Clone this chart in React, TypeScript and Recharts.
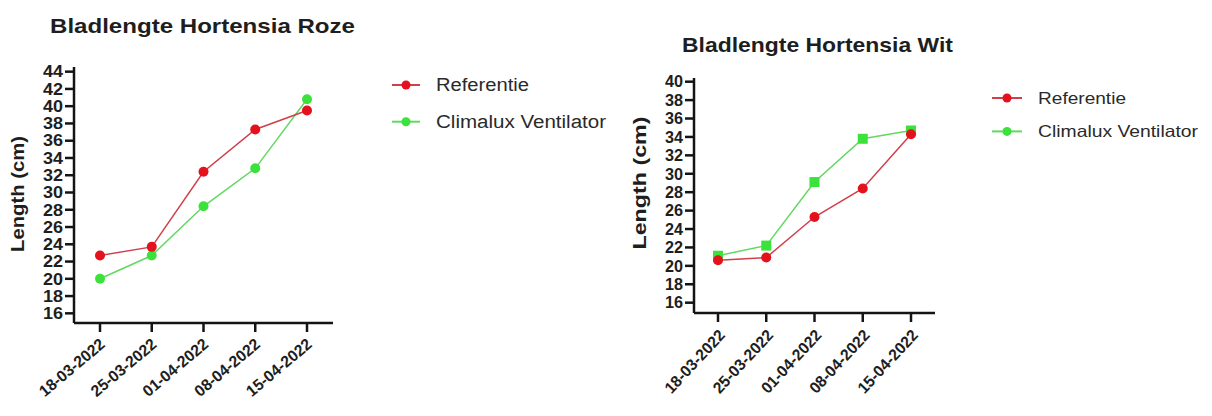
import { LineChart, Line, XAxis, YAxis, Legend } from 'recharts'

const dates = ['18-03-2022', '25-03-2022', '01-04-2022', '08-04-2022', '15-04-2022']
const seriesNames = ['Referentie', 'Climalux Ventilator']

const rozeReferentie = [22.7, 23.7, 32.4, 37.3, 39.5]
const rozeClimalux = [20.0, 22.7, 28.4, 32.8, 40.8]
const rozeTicks = [16, 18, 20, 22, 24, 26, 28, 30, 32, 34, 36, 38, 40, 42, 44]

const witReferentie = [20.6, 20.9, 25.3, 28.4, 34.3]
const witClimalux = [21.1, 22.2, 29.1, 33.8, 34.7]
const witTicks = [16, 18, 20, 22, 24, 26, 28, 30, 32, 34, 36, 38, 40]

const RED_DOT = '#e3121c'
const RED_LINE = '#d0404a'
const GREEN_DOT = '#3be23b'
const GREEN_LINE = '#62d862'
const AXIS = '#141414'
const FONT = '"Liberation Sans", Arial, sans-serif'

type Row = { date: string; ref: number; clim: number }

const rozeData: Row[] = dates.map((d, i) => ({ date: d, ref: rozeReferentie[i], clim: rozeClimalux[i] }))
const witData: Row[] = dates.map((d, i) => ({ date: d, ref: witReferentie[i], clim: witClimalux[i] }))

function XTick(props: any) {
  const { x, y, payload, angle, dx, dy, len } = props
  return (
    <g transform={`translate(${x},${y})`}>
      <text
        x={dx}
        y={dy}
        textAnchor="end"
        transform={`rotate(${angle} ${dx} ${dy})`}
        fontFamily={FONT}
        fontWeight="bold"
        fontSize={16}
        fill="#1e1e1e"
        textLength={len}
        lengthAdjust="spacingAndGlyphs"
      >
        {payload.value}
      </text>
    </g>
  )
}

function YTick(props: any) {
  const { x, y, payload, len } = props
  return (
    <text
      x={x}
      y={y}
      dy="0.36em"
      textAnchor="end"
      fontFamily={FONT}
      fontWeight="bold"
      fontSize={16}
      fill="#1e1e1e"
      textLength={len}
      lengthAdjust="spacingAndGlyphs"
    >
      {payload.value}
    </text>
  )
}

function LegendBox({ rowGap, lineLen, textLens, fontSize }: { rowGap: number; lineLen: number; textLens: number[]; fontSize: number }) {
  const colors = [
    { line: RED_LINE, dot: RED_DOT },
    { line: GREEN_LINE, dot: GREEN_DOT },
  ]
  return (
    <svg width={240} height={70} style={{ display: 'block' }}>
      {seriesNames.map((name, i) => {
        const cy = 15 + i * rowGap
        return (
          <g key={name}>
            <line x1={7} x2={7 + lineLen} y1={cy} y2={cy} stroke={colors[i].line} strokeWidth={2} />
            <circle cx={7 + lineLen / 2} cy={cy} r={4.5} fill={colors[i].dot} />
            <text
              x={7 + lineLen + 16}
              y={cy}
              dy="0.36em"
              fontFamily={FONT}
              fontSize={fontSize}
              fill="#2a2a2a"
              textLength={textLens[i]}
              lengthAdjust="spacingAndGlyphs"
            >
              {name}
            </text>
          </g>
        )
      })}
    </svg>
  )
}

function SquareDot(props: any) {
  const { cx, cy, index } = props
  if (cx == null || cy == null) return null
  return <rect key={`sq-${index}`} x={cx - 5} y={cy - 5} width={10} height={10} fill={GREEN_DOT} />
}

type PanelProps = {
  data: Row[]
  left: number
  width: number
  top: number
  right: number
  xHeight: number
  pad: number
  domain: [number, number]
  ticks: number[]
  tickAngle: number
  tickDx: number
  tickDy: number
  tickLen: number
  yLabel: { x: number; y: number; len: number }
  yTickLen: number
  legendPos: { left: number; top: number }
  legendProps: { rowGap: number; lineLen: number; textLens: number[]; fontSize: number }
  squareClim?: boolean
}

function Panel(p: PanelProps) {
  return (
    <div style={{ position: 'absolute', left: p.left, top: 0 }}>
      <LineChart width={p.width} height={416} data={p.data} margin={{ top: p.top, right: p.right, bottom: 0, left: 0 }}>
        <XAxis
          dataKey="date"
          height={p.xHeight}
          interval={0}
          padding={{ left: p.pad, right: p.pad }}
          tickSize={9}
          tickMargin={0}
          axisLine={{ stroke: AXIS, strokeWidth: 2.5 }}
          tickLine={{ stroke: AXIS, strokeWidth: 2.5 }}
          tick={<XTick angle={p.tickAngle} dx={p.tickDx} dy={p.tickDy} len={p.tickLen} />}
        />
        <YAxis
          type="number"
          width={74}
          domain={p.domain}
          ticks={p.ticks}
          allowDataOverflow
          interval={0}
          tickSize={9}
          tickMargin={2}
          axisLine={{ stroke: AXIS, strokeWidth: 2.5 }}
          tickLine={{ stroke: AXIS, strokeWidth: 2.5 }}
          tick={<YTick len={p.yTickLen} />}
          label={{
            content: () => (
              <text
                x={p.yLabel.x}
                y={p.yLabel.y}
                textAnchor="middle"
                transform={`rotate(-90 ${p.yLabel.x} ${p.yLabel.y})`}
                fontFamily={FONT}
                fontWeight="bold"
                fontSize={18}
                fill="#1e1e1e"
                textLength={p.yLabel.len}
                lengthAdjust="spacingAndGlyphs"
              >
                Length (cm)
              </text>
            ),
          }}
        />
        <Legend
          layout="vertical"
          align="center"
          verticalAlign="middle"
          wrapperStyle={{ left: p.legendPos.left, top: p.legendPos.top, width: 240 }}
          content={() => <LegendBox {...p.legendProps} />}
        />
        <Line
          dataKey="clim"
          name={seriesNames[1]}
          stroke={GREEN_LINE}
          strokeWidth={1.5}
          dot={p.squareClim ? <SquareDot /> : { r: 5, fill: GREEN_DOT, stroke: 'none' }}
          isAnimationActive={false}
        />
        <Line
          dataKey="ref"
          name={seriesNames[0]}
          stroke={RED_LINE}
          strokeWidth={1.5}
          dot={{ r: 5, fill: RED_DOT, stroke: 'none' }}
          isAnimationActive={false}
        />
      </LineChart>
    </div>
  )
}

export default function App() {
  return (
    <div style={{ position: 'absolute', left: 0, top: 0, width: 1212, height: 416, background: '#fff', overflow: 'hidden' }}>
      <svg width={1212} height={60} style={{ position: 'absolute', left: 0, top: 0 }}>
        <text x={50} y={33} fontFamily={FONT} fontWeight="bold" fontSize={21} fill="#1e1e1e" textLength={305} lengthAdjust="spacingAndGlyphs">
          Bladlengte Hortensia Roze
        </text>
        <text x={682} y={52} fontFamily={FONT} fontWeight="bold" fontSize={21} fill="#1e1e1e" textLength={271} lengthAdjust="spacingAndGlyphs">
          Bladlengte Hortensia Wit
        </text>
      </svg>
      <Panel
        data={rozeData}
        left={0}
        width={620}
        top={67}
        right={287}
        xHeight={93}
        pad={26}
        domain={[14.88, 44.54]}
        ticks={rozeTicks}
        tickAngle={-40}
        tickDx={6}
        tickDy={14}
        tickLen={80}
        yLabel={{ x: 24, y: 194, len: 116 }}
        yTickLen={20}
        legendPos={{ left: 385, top: 70 }}
        legendProps={{ rowGap: 36.7, lineLen: 28, textLens: [93, 170], fontSize: 18 }}
      />
      <Panel
        data={witData}
        left={620}
        width={592}
        top={78}
        right={277}
        xHeight={103}
        pad={24}
        domain={[14.88, 40.4]}
        ticks={witTicks}
        tickAngle={-47}
        tickDx={8}
        tickDy={14}
        tickLen={80}
        yLabel={{ x: 26, y: 183, len: 133 }}
        yTickLen={18}
        legendPos={{ left: 365, top: 83 }}
        legendProps={{ rowGap: 33.4, lineLen: 30, textLens: [88, 160], fontSize: 16.5 }}
        squareClim
      />
    </div>
  )
}
